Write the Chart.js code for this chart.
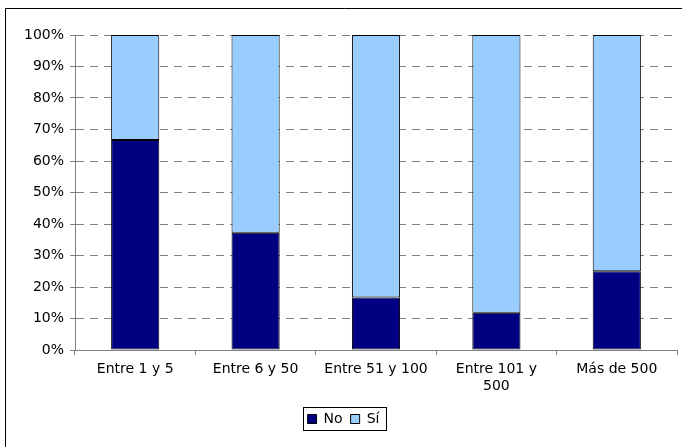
<!DOCTYPE html>
<html>
<head>
<meta charset="utf-8">
<script src="https://cdn.jsdelivr.net/npm/chart.js@4/dist/chart.umd.min.js"></script>
<style>
  html, body { margin: 0; padding: 0; background: #ffffff; }
  #wrap { width: 682px; height: 447px; }
</style>
</head>
<body>
<div id="wrap"><canvas id="c" width="682" height="447"></canvas></div>
<script>
// Company size bands (number of employees)
const categories = ['Entre 1 y 5', 'Entre 6 y 50', 'Entre 51 y 100', ['Entre 101 y', '500'], 'Más de 500'];
// Share of answers per band, in percent
const noValues = [66.7, 37.2, 16.7, 11.8, 25.0];
const siValues = [33.3, 62.8, 83.3, 88.2, 75.0];
const seriesNames = ['No', 'Sí'];
const yTicks = [0, 10, 20, 30, 40, 50, 60, 70, 80, 90, 100];

const FONT = 'DejaVu Sans';

// Frame around the chart and a box around the legend
const framePlugin = {
  id: 'frame',
  beforeDraw(chart) {
    const ctx = chart.ctx;
    ctx.save();
    ctx.fillStyle = '#ffffff';
    ctx.fillRect(0, 0, chart.width, chart.height);
    ctx.strokeStyle = '#000000';
    ctx.lineWidth = 1;
    ctx.beginPath();
    ctx.moveTo(5.5, chart.height + 2);
    ctx.lineTo(5.5, 8.5);
    ctx.lineTo(chart.width + 2, 8.5);
    ctx.stroke();
    ctx.restore();
  },
  afterDraw(chart) {
    const boxes = chart.legend && chart.legend.legendHitBoxes;
    if (!boxes || !boxes.length) return;
    let x0 = Infinity, x1 = -Infinity, y0 = Infinity, y1 = -Infinity;
    boxes.forEach(b => {
      x0 = Math.min(x0, b.left); x1 = Math.max(x1, b.left + b.width);
      y0 = Math.min(y0, b.top); y1 = Math.max(y1, b.top + b.height);
    });
    const ctx = chart.ctx;
    ctx.save();
    ctx.strokeStyle = '#000000';
    ctx.lineWidth = 1;
    ctx.strokeRect(Math.round(x0 - 5) + 0.5, Math.round(y0 - 5) + 0.5,
                   Math.round(x1 - x0 + 11), Math.round(y1 - y0 + 9));
    ctx.restore();
  }
};

new Chart(document.getElementById('c'), {
  type: 'bar',
  data: {
    labels: categories,
    datasets: [
      {
        label: seriesNames[0],
        data: noValues,
        backgroundColor: '#000080',
        borderColor: '#000000',
        borderWidth: 1,
        borderSkipped: false
      },
      {
        label: seriesNames[1],
        data: siValues,
        backgroundColor: '#99CCFF',
        borderColor: '#000000',
        borderWidth: 1,
        borderSkipped: false
      }
    ]
  },
  options: {
    responsive: false,
    animation: false,
    devicePixelRatio: 1,
    layout: { padding: { left: 10, right: 5, top: 35, bottom: 11 } },
    datasets: { bar: { categoryPercentage: 1.0, barPercentage: 0.4 } },
    plugins: {
      title: { display: false },
      tooltip: { enabled: false },
      legend: {
        position: 'bottom',
        labels: {
          font: { family: FONT, size: 14 },
          color: '#000000',
          boxWidth: 9,
          boxHeight: 9,
          padding: 8
        }
      }
    },
    scales: {
      x: {
        stacked: true,
        offset: true,
        grid: {
          offset: true,
          drawOnChartArea: false,
          drawTicks: true,
          tickLength: 5,
          tickColor: '#808080'
        },
        border: { display: true, color: '#808080', width: 1 },
        ticks: {
          font: { family: FONT, size: 14 },
          color: '#000000',
          maxRotation: 0,
          minRotation: 0,
          autoSkip: false,
          padding: 6
        },
        afterFit(s) { s.height = 54; }
      },
      y: {
        stacked: true,
        min: 0,
        max: 100,
        afterBuildTicks(s) { s.ticks = yTicks.map(v => ({ value: v })); },
        grid: {
          color: '#808080',
          drawTicks: true,
          tickLength: 5,
          tickColor: '#808080',
          tickBorderDash: []
        },
        border: { display: true, color: '#808080', width: 1, dash: [8, 6] },
        ticks: {
          font: { family: FONT, size: 14 },
          color: '#000000',
          padding: 6,
          callback: v => v + '%'
        },
        afterFit(s) { s.width = 65; }
      }
    }
  },
  plugins: [framePlugin]
});
</script>
</body>
</html>
